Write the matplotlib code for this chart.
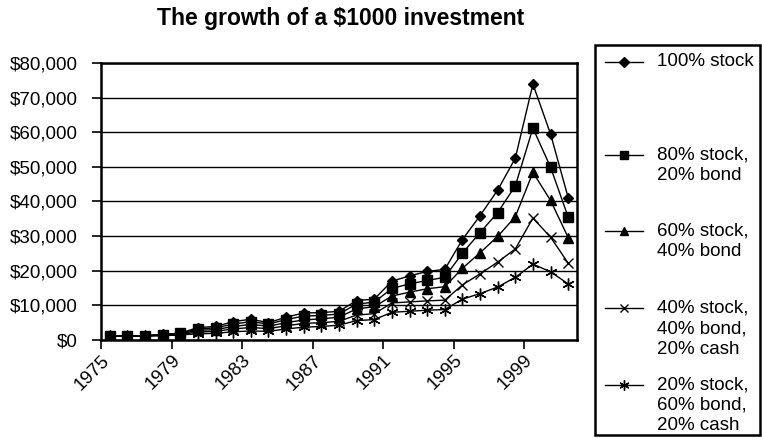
import numpy as np
import matplotlib
matplotlib.use('Agg')
import matplotlib.pyplot as plt
from matplotlib.ticker import FuncFormatter
from matplotlib.lines import Line2D
from matplotlib.patches import Rectangle

plt.rcParams['font.family'] = ['Liberation Sans', 'DejaVu Sans']

# 데이터 (그림에서 읽은 값, 단위 $)
years = list(range(1975, 2002))
stock100 = [1200, 1250, 1250, 1600, 2000, 3600, 3900, 5300, 6000, 5000, 6600, 7800, 7900, 8300,
            11400, 11800, 17000, 18500, 19800, 20400, 29000, 35900, 43300, 52500, 73900, 59500, 41100]
stock80 = [1200, 1250, 1250, 1550, 1900, 3200, 3500, 4600, 5300, 4600, 5900, 6900, 7100, 7500,
           10400, 10900, 14900, 16200, 17200, 18100, 25100, 31000, 36800, 44500, 61200, 49900, 35500]
stock60 = [1150, 1200, 1200, 1450, 1750, 2800, 3000, 3900, 4500, 4000, 5000, 5800, 6100, 6600,
           9000, 9600, 12700, 13800, 14800, 15400, 20700, 25200, 29900, 35600, 48400, 40300, 29600]
stock40 = [1100, 1150, 1150, 1350, 1600, 2300, 2500, 3200, 3600, 3300, 4100, 4800, 5000, 5400,
           7200, 7600, 10700, 11000, 11300, 11500, 15900, 19100, 22500, 26300, 35200, 29700, 22200]
stock20 = [1050, 1100, 1150, 1250, 1450, 1800, 1900, 2400, 2600, 2500, 3200, 3700, 3900, 4300,
           5600, 5900, 8000, 8300, 8600, 8800, 11800, 13400, 15300, 18100, 21900, 19700, 16200]

labels = ['100% stock', '80% stock,\n20% bond', '60% stock,\n40% bond',
          '40% stock,\n40% bond,\n20% cash', '20% stock,\n60% bond,\n20% cash']
tick_years = [1975, 1979, 1983, 1987, 1991, 1995, 1999]

W, H = 762, 438


def fpx(x, y):
    # 픽셀 좌표 -> figure 좌표
    return x / W, 1 - y / H


fig = plt.figure(figsize=(W / 100, H / 100), dpi=100)
ax = fig.add_axes([101 / W, 1 - 340 / H, (577 - 101) / W, (340 - 63) / H])

series = [stock100, stock80, stock60, stock40, stock20]
styles = [
    dict(marker='D', markersize=5.5, markerfacecolor='black'),
    dict(marker='s', markersize=6.5, markerfacecolor='black'),
    dict(marker='^', markersize=6.5, markerfacecolor='black'),
    dict(marker='x', markersize=7.5, markeredgewidth=1.0),
    dict(marker=(6, 2, 0), markersize=8.5, markeredgewidth=1.0),
]

x = np.array(years) + 0.5
for vals, st in zip(series, styles):
    ax.plot(x, vals, color='black', lw=1.0, markeredgecolor='black', zorder=3, **st)

ax.set_xlim(1975, 2002)
ax.set_ylim(0, 80000)
ax.set_yticks(np.arange(0, 80001, 10000))
ax.yaxis.set_major_formatter(FuncFormatter(lambda v, p: f'${v:,.0f}'))
ax.set_xticks(tick_years)
ax.set_xticklabels([str(t) for t in tick_years], rotation=45, ha='right', va='top',
                   rotation_mode='anchor')
ax.tick_params(axis='both', direction='out', length=6.5, width=1.2, labelsize=13.5, color='black')
ax.tick_params(axis='y', pad=10)
ax.tick_params(axis='x', pad=2)
ax.grid(axis='y', color='black', lw=1.0)
ax.set_axisbelow(True)
for sp in ax.spines.values():
    sp.set_linewidth(1.8)

fig.text(*fpx(341, 19), 'The growth of a $1000 investment', ha='center', va='center',
         fontsize=16.5, fontweight='bold')

# 범례 (수동)
x0, y0 = fpx(595, 435)
x1, y1 = fpx(760, 45)
fig.patches.append(Rectangle((x0, y0), x1 - x0, y1 - y0, transform=fig.transFigure,
                             fill=False, lw=1.8, edgecolor='black'))
entry_y = [62, 155, 231, 308, 385]
for lab, st, ey in zip(labels, styles, entry_y):
    lx0, ly = fpx(605, ey)
    lx1, _ = fpx(643, ey)
    fig.add_artist(Line2D([lx0, (lx0 + lx1) / 2, lx1], [ly, ly, ly], color='black', lw=1.0,
                          markevery=[1], markeredgecolor='black', transform=fig.transFigure,
                          **{k: (v * 0.85 if k == 'markersize' else v) for k, v in st.items()}))
    for k, line in enumerate(lab.split('\n')):
        fig.text(*fpx(657, ey + k * 20.5), line, ha='left', va='center', fontsize=13.5)

fig.savefig('out.png', dpi=100)
